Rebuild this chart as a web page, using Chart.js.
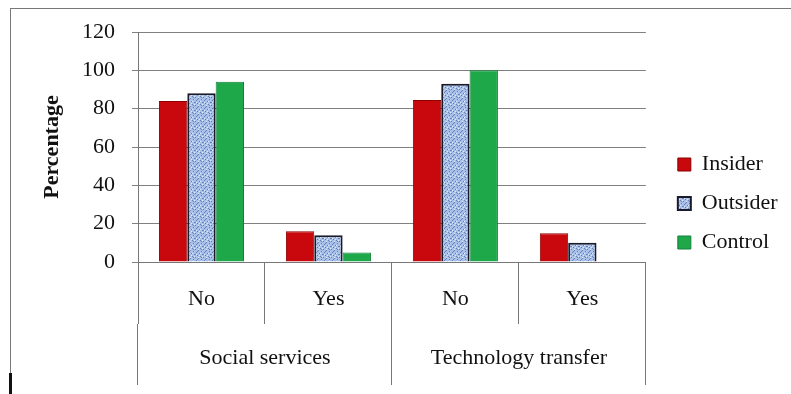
<!DOCTYPE html>
<html>
<head>
<meta charset="utf-8">
<script src="https://cdn.jsdelivr.net/npm/chart.js@4"></script>
<style>
body { margin: 0; background: #fff; }
#wrap { position: relative; width: 791px; height: 394px; overflow: hidden; }
#frame { position: absolute; left: 10px; top: 8px; width: 800px; height: 400px; border-top: 1px solid #777; border-left: 1px solid #777; }
#mark { position: absolute; left: 9px; top: 373px; width: 3px; height: 21px; background: #111; }
#chartDiv { position: absolute; left: 0; top: 0; }
</style>
</head>
<body>
<div id="wrap">
  <div id="frame"></div>
  <div id="mark"></div>
  <canvas id="chartDiv" width="791" height="394"></canvas>
</div>
<script>
const subLabels = ["No", "Yes", "No", "Yes"];
const groupLabels = ["Social services", "Technology transfer"];
const insider = [84, 16, 84.5, 15];
const outsider = [88, 14, 93, 10];
const control = [94, 5, 100, 0];
const yMax = 120;
const yStep = 20;

const serif = "'Liberation Serif', 'Times New Roman', serif";

// blue textured fill for the Outsider bars
function makeTexture() {
  const c = document.createElement("canvas");
  c.width = 8;
  c.height = 8;
  const g = c.getContext("2d");
  g.fillStyle = "#a9c0e8";
  g.fillRect(0, 0, 8, 8);
  g.fillStyle = "#5f7fbf";
  const spots = [[0,0],[3,1],[6,2],[1,3],[4,4],[7,5],[2,6],[5,7],[1,1],[5,3],[3,6]];
  spots.forEach(p => g.fillRect(p[0], p[1], 1, 1));
  g.fillStyle = "#dfe8f7";
  [[2,0],[6,1],[0,5],[4,6],[7,7]].forEach(p => g.fillRect(p[0], p[1], 1, 1));
  return g.createPattern(c, "repeat");
}

const canvasDiv = document.getElementById("chartDiv");
const texture = makeTexture();

var chart = new Chart(canvasDiv, {
  type: "bar",
  data: {
    labels: subLabels,
    datasets: [
      { label: "Insider", data: insider, backgroundColor: "#c8080c", borderColor: "#8a0000", borderWidth: 1, xAxisID: "x", yAxisID: "y" },
      { label: "Outsider", data: outsider, backgroundColor: texture, borderColor: "#1a1a2a", borderWidth: 2, xAxisID: "x", yAxisID: "y" },
      { label: "Control", data: control, backgroundColor: "#1fa84a", borderColor: "#12803a", borderWidth: 1, xAxisID: "x", yAxisID: "y" },
    ],
  },
  options: {
    responsive: false,
    animation: false,
    layout: { padding: { top: 22, left: 35, right: 5, bottom: 9 } },
    datasets: { bar: { categoryPercentage: 0.67, barPercentage: 1 } },
    plugins: {
      tooltip: { enabled: false },
      legend: {
        position: "right",
        labels: {
          font: { family: serif, size: 22 },
          color: "#111",
          boxWidth: 13,
          boxHeight: 13,
          padding: 17,
        },
      },
    },
    scales: {
      x: {
        weight: 0,
        offset: true,
        grid: { drawOnChartArea: false, offset: true, tickLength: 62, color: "#777" },
        border: { color: "#777" },
        ticks: { padding: -38, font: { family: serif, size: 22 }, color: "#111" },
        afterFit: (s) => { s.height = 62; },
      },
      x2: {
        type: "category",
        labels: groupLabels,
        position: "bottom",
        weight: 1,
        offset: true,
        grid: { drawOnChartArea: false, offset: true, tickLength: 61, color: "#777" },
        border: { display: false },
        ticks: { padding: -40, font: { family: serif, size: 22 }, color: "#111" },
        afterFit: (s) => { s.height = 61; },
      },
      // empty spacer above the plot so the legend sits a little higher
      xTop: {
        type: "category",
        labels: subLabels,
        position: "top",
        display: true,
        grid: { display: false },
        border: { display: false },
        ticks: { display: false },
        afterFit: (s) => { s.height = 10; },
      },
      y: {
        min: 0,
        max: yMax,
        ticks: { stepSize: yStep, padding: 17, font: { family: serif, size: 22 }, color: "#111" },
        grid: { color: "#808080", tickLength: 6 },
        border: { color: "#777" },
        title: { display: true, text: "Percentage", font: { family: serif, size: 22, weight: "bold" }, color: "#111" },
        afterFit: (s) => { s.width = 103; },
      },
      yR: {
        position: "right",
        display: true,
        min: 0,
        max: 1,
        grid: { display: false },
        border: { display: false },
        ticks: { display: false },
        afterFit: (s) => { s.width = 15; },
      },
    },
  },
});
</script>
</body>
</html>
